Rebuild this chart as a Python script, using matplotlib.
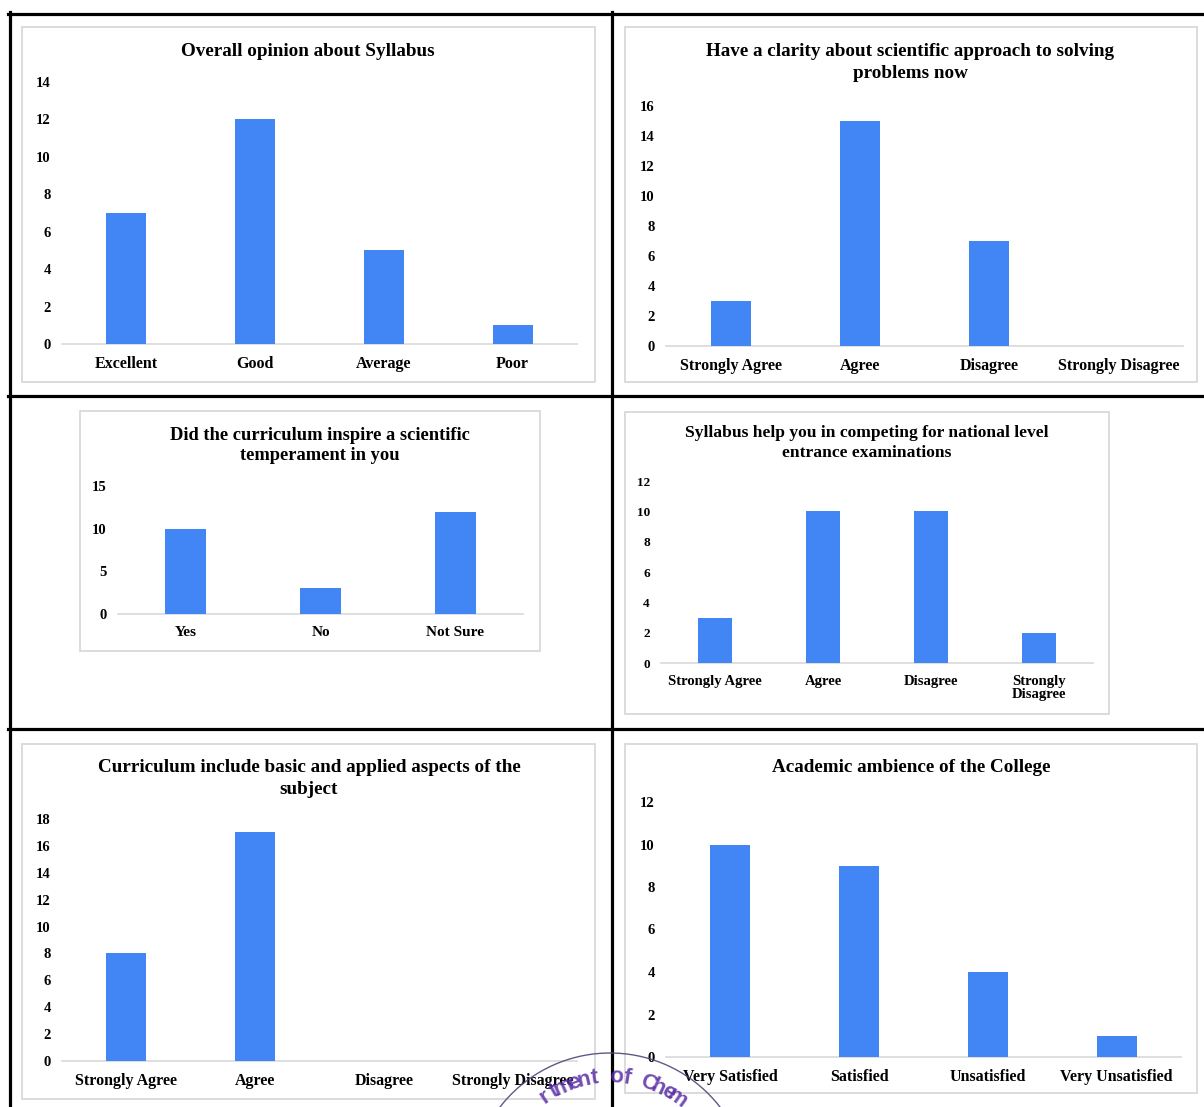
import numpy as np
import matplotlib
matplotlib.use('Agg')
import matplotlib.pyplot as plt
from matplotlib.patches import Rectangle
from matplotlib.lines import Line2D

plt.rcParams['font.family'] = ['Liberation Serif', 'DejaVu Serif']
plt.rcParams['font.weight'] = 'bold'

W, H = 1204, 1107
BLUE = '#4285f4'
GRID = '#d9d9d9'

# survey data
opinion_cats = ['Excellent', 'Good', 'Average', 'Poor']
opinion_vals = [7, 12, 5, 1]

clarity_cats = ['Strongly Agree', 'Agree', 'Disagree', 'Strongly Disagree']
clarity_vals = [3, 15, 7, 0]

inspire_cats = ['Yes', 'No', 'Not Sure']
inspire_vals = [10, 3, 12]

national_cats = ['Strongly Agree', 'Agree', 'Disagree', 'Strongly\nDisagree']
national_vals = [3, 10, 10, 2]

basic_cats = ['Strongly Agree', 'Agree', 'Disagree', 'Strongly Disagree']
basic_vals = [8, 17, 0, 0]

ambience_cats = ['Very Satisfied', 'Satisfied', 'Unsatisfied', 'Very Unsatisfied']
ambience_vals = [10, 9, 4, 1]

fig = plt.figure(figsize=(W / 100, H / 100), dpi=100)


def fx(x):
    return x / W


def fy(y):
    return 1 - y / H


def panel(box, area, title_lines, title_ys, title_x, cats, vals, ymax, ystep,
          tsize=13.8, lsize=11.5, ysize=10.5):
    # light grey frame round each chart
    bx0, by0, bx1, by1 = box
    fig.patches.append(Rectangle((fx(bx0), fy(by1)), fx(bx1 - bx0), (by1 - by0) / H,
                                 transform=fig.transFigure, fill=False,
                                 edgecolor=GRID, lw=1.3))
    for line, ty in zip(title_lines, title_ys):
        fig.text(fx(title_x), fy(ty), line, ha='center', va='center',
                 fontsize=tsize, fontweight='bold')
    l, t, r, b = area
    ax = fig.add_axes([fx(l), fy(b), (r - l) / W, (b - t) / H])
    x = np.arange(len(cats))
    ax.bar(x, vals, width=0.31, color=BLUE, zorder=3)
    ax.set_xlim(-0.5, len(cats) - 0.5)
    ax.set_ylim(0, ymax)
    ax.set_yticks(np.arange(0, ymax + 1, ystep))
    ax.set_xticks(x)
    ax.set_xticklabels(cats, fontsize=lsize, fontweight='bold', linespacing=1.0)
    ax.tick_params(axis='y', length=0, pad=8, labelsize=ysize)
    ax.tick_params(axis='x', length=0, pad=8.5)
    for s in ['top', 'right', 'left']:
        ax.spines[s].set_visible(False)
    ax.spines['bottom'].set_color(GRID)
    ax.spines['bottom'].set_linewidth(1.2)
    ax.patch.set_alpha(0)
    return ax


panel((22, 27, 595, 382), (62, 82, 577, 344),
      ['Overall opinion about Syllabus'], [51], 308,
      opinion_cats, opinion_vals, 14, 2)

panel((625, 27, 1197, 382), (666, 106, 1183, 346),
      ['Have a clarity about scientific approach to solving', 'problems now'],
      [51, 73], 910, clarity_cats, clarity_vals, 16, 2)

panel((80, 411, 540, 651), (118, 486, 523, 614),
      ['Did the curriculum inspire a scientific', 'temperament in you'],
      [435, 456], 320, inspire_cats, inspire_vals, 15, 5,
      tsize=13.3, lsize=11, ysize=10.5)

panel((625, 412, 1109, 714), (661, 481, 1093, 663),
      ['Syllabus help you in competing for national level', 'entrance examinations'],
      [433, 453], 867, national_cats, national_vals, 12, 2,
      tsize=12.6, lsize=10.5, ysize=9.5)

panel((22, 744, 595, 1099), (62, 819, 577, 1061),
      ['Curriculum include basic and applied aspects of the', 'subject'],
      [767, 789], 309, basic_cats, basic_vals, 18, 2)

panel((625, 744, 1197, 1093), (666, 802, 1181, 1057),
      ['Academic ambience of the College'], [767], 911,
      ambience_cats, ambience_vals, 12, 2)

# black table rules
rules = [((8, 1204), (13.5, 13.5)), ((9.5, 9.5), (12, 1107)),
         ((612, 612), (12, 1107)), ((8, 1204), (396, 396)),
         ((8, 1204), (729, 729))]
for xs, ys in rules:
    fig.lines.append(Line2D([fx(v) for v in xs], [fy(v) for v in ys],
                            transform=fig.transFigure, color='black', lw=2.3))

# partial department stamp at the bottom
cx, cy, rad = 610, 1192, 139
th = np.linspace(0, np.pi, 200)
fig.lines.append(Line2D(fx(cx + rad * np.cos(th)), fy(cy - rad * np.sin(th)),
                        transform=fig.transFigure, color='#4b4a7a', lw=1.0, alpha=0.9))
stamp = 'Department of Chemistry'
angs = np.deg2rad(84 + 5.4 * (11.5 - np.arange(len(stamp))))
for ch, a in zip(stamp, angs):
    px = cx + 115 * np.cos(a)
    py = cy - 115 * np.sin(a)
    if py > H - 6:
        continue
    fig.text(fx(px), fy(py), ch, ha='center', va='center', fontsize=16,
             fontweight='bold', family='Liberation Sans', color='#5a2ea6',
             rotation=np.rad2deg(a) - 90, alpha=0.85, zorder=10)

fig.savefig('out.png', dpi=100, facecolor='white')
